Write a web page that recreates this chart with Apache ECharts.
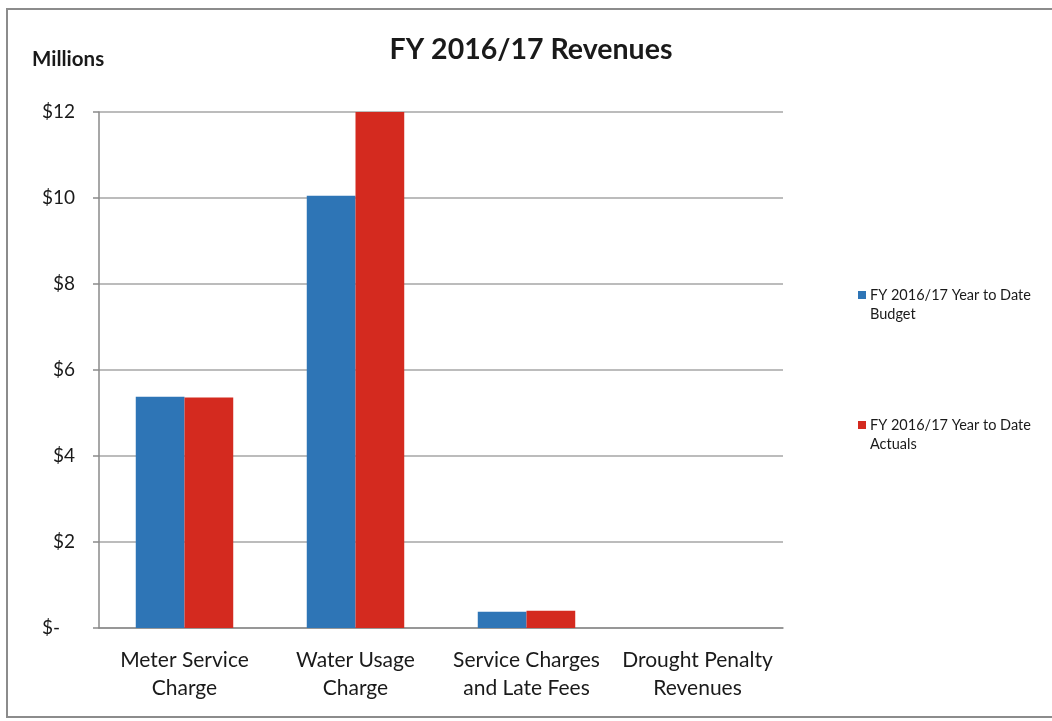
<!DOCTYPE html>
<html>
<head>
<meta charset="utf-8">
<script src="https://cdn.jsdelivr.net/npm/echarts@6/dist/echarts.min.js"></script>
<style>
  html, body { margin: 0; padding: 0; background: #fff; }
  #chart { width: 1052px; height: 721px; }
</style>
</head>
<body>
<div id="chart"></div>
<script>
// Revenue categories and year-to-date amounts (millions of dollars)
const categories = [
  'Meter Service\nCharge',
  'Water Usage\nCharge',
  'Service Charges\nand Late Fees',
  'Drought Penalty\nRevenues'
];
const budget = [5.38, 10.05, 0.38, 0];
const actuals = [5.36, 12.0, 0.40, 0];
const seriesNames = ['FY 2016/17 Year to Date Budget', 'FY 2016/17 Year to Date Actuals'];
const legendLines = {
  'FY 2016/17 Year to Date Budget': 'FY 2016/17 Year to Date\nBudget',
  'FY 2016/17 Year to Date Actuals': 'FY 2016/17 Year to Date\nActuals'
};
const yTicks = [0, 2, 4, 6, 8, 10, 12];

const FONT = 'Lato, "Open Sans", sans-serif';
// Legend swatch: a small square sitting at the top of a taller box, so it lines up with the first text line
const LEGEND_ICON = 'path://M0,0H8V8H0Z M0,27.99H8V28H0Z';

const chart = echarts.init(document.getElementById('chart'), null, { renderer: 'canvas' });

chart.setOption({
  backgroundColor: '#ffffff',
  animation: false,
  textStyle: { fontFamily: FONT, color: '#1a1a1a' },
  title: {
    text: 'FY 2016/17 Revenues',
    left: 526,
    top: 30,
    textAlign: 'center',
    textStyle: { fontFamily: FONT, fontSize: 28.5, fontWeight: 'bold', color: '#1a1a1a' }
  },
  graphic: [
    {
      type: 'rect',
      shape: { x: 7, y: 9, width: 1060, height: 708 },
      style: { fill: 'none', stroke: '#8c8c8c', lineWidth: 2 },
      silent: true
    },
    {
      type: 'text',
      left: 32,
      top: 49,
      style: { text: 'Millions', font: 'bold 20.5px ' + FONT, fill: '#1a1a1a' }
    }
  ],
  legend: {
    orient: 'vertical',
    left: 858,
    top: 286,
    padding: 0,
    itemGap: 92,
    itemWidth: 8,
    itemHeight: 28,
    icon: LEGEND_ICON,
    formatter: name => legendLines[name],
    textStyle: { fontFamily: FONT, fontSize: 14.5, lineHeight: 19, color: '#1a1a1a', padding: [0, 0, 0, -1] },
    data: seriesNames
  },
  grid: { left: 99, right: 269, top: 112, bottom: 93, containLabel: false },
  xAxis: {
    type: 'category',
    data: categories,
    axisLine: { show: true, lineStyle: { color: '#8a8a8a', width: 1.5 } },
    axisTick: { show: false },
    axisLabel: { fontFamily: FONT, fontSize: 21, lineHeight: 28, margin: 18, color: '#1a1a1a', interval: 0 }
  },
  yAxis: {
    type: 'value',
    min: 0,
    max: 12,
    interval: 2,
    axisLine: { show: true, lineStyle: { color: '#8a8a8a', width: 1.5 } },
    axisTick: { show: true, length: 6, lineStyle: { color: '#8a8a8a', width: 1.5 } },
    splitLine: { show: true, lineStyle: { color: '#a6a6a6', width: 1.5 } },
    axisLabel: {
      fontFamily: FONT,
      fontSize: 19,
      margin: 24,
      color: '#1a1a1a',
      formatter: v => (yTicks.indexOf(v) < 0 ? '' : (v === 0 ? '{z|$-}' : '$' + v)),
      rich: { z: { fontFamily: FONT, fontSize: 19, color: '#1a1a1a', padding: [0, 15, 0, 0] } }
    }
  },
  series: [
    {
      name: seriesNames[0],
      type: 'bar',
      data: budget,
      barGap: '0%',
      barCategoryGap: '43%',
      itemStyle: { color: '#2e75b6' }
    },
    {
      name: seriesNames[1],
      type: 'bar',
      data: actuals,
      barGap: '0%',
      barCategoryGap: '43%',
      itemStyle: { color: '#d42a1f' }
    }
  ]
});
</script>
</body>
</html>
